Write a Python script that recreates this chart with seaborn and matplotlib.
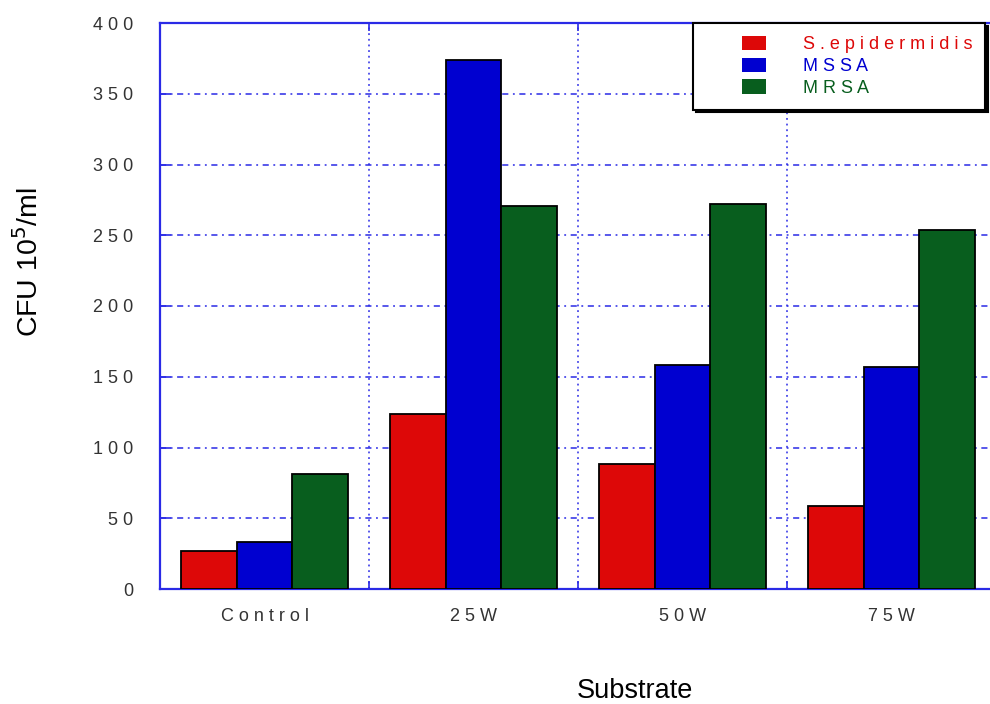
import matplotlib
matplotlib.use("Agg")
import matplotlib.pyplot as plt
from matplotlib.patches import Patch, Rectangle
from matplotlib.legend_handler import HandlerPatch
from matplotlib.ticker import FixedLocator
import seaborn as sns
import pandas as pd

# Data
substrates = ["Control", "25W", "50W", "75W"]
series = ["S.epidermidis", "MSSA", "MRSA"]
s_epidermidis = [27, 124, 88, 59]
mssa = [33, 374, 158, 157]
mrsa = [81, 271, 272, 254]
y_ticks = [0, 50, 100, 150, 200, 250, 300, 350, 400]

colors = {"S.epidermidis": "#DD0808", "MSSA": "#0000D0", "MRSA": "#085E1E"}
axis_blue = "#2A2AE6"

df = pd.DataFrame({
    "Substrate": substrates * 3,
    "Organism": [series[0]] * 4 + [series[1]] * 4 + [series[2]] * 4,
    "CFU": s_epidermidis + mssa + mrsa,
})

sns.set_style("white")
plt.rcParams["font.family"] = ["Liberation Sans", "DejaVu Sans"]

fig = plt.figure(figsize=(9.9, 7.04), dpi=100)
ax = fig.add_axes([160 / 990, 1 - 589 / 704, 830 / 990, 566 / 704])

sns.barplot(data=df, x="Substrate", y="CFU", hue="Organism",
            order=substrates, hue_order=series, palette=colors,
            width=0.8, edgecolor="black", linewidth=1.3,
            saturation=1, ax=ax, legend=False, zorder=3)

ax.set_xlim(-0.5, 3.471)
ax.set_ylim(0, 400)

def spaced(s):
    return " ".join(s)

# Y axis
ax.set_yticks(y_ticks)
ax.set_yticklabels([spaced(str(v)) for v in y_ticks], fontsize=13, color="#333333")
ax.tick_params(axis="y", direction="in", length=8, width=1.2, color=axis_blue, pad=19, left=True)

# X axis: labels at category centres, ticks at boundaries
ax.set_xticks(range(len(substrates)))
ax.set_xticklabels([spaced(s) for s in substrates], fontsize=13, color="#333333")
ax.tick_params(axis="x", which="major", length=0, pad=14)
ax.xaxis.set_minor_locator(FixedLocator([0.5, 1.5, 2.5]))
ax.tick_params(axis="x", which="minor", direction="in", length=6, width=1.2,
               color=axis_blue, bottom=True, top=True)

# Grid
for v in y_ticks[1:-1]:
    ax.axhline(v, color=axis_blue, linestyle=(0, (4, 3, 1.2, 3)), linewidth=1.1, zorder=1)
for b in [0.5, 1.5, 2.5]:
    ax.axvline(b, color=axis_blue, linestyle=(0, (1.2, 2.5)), linewidth=1.1, zorder=1)

for side in ["left", "bottom", "top"]:
    ax.spines[side].set_color(axis_blue)
    ax.spines[side].set_linewidth(1.6)
ax.spines["right"].set_visible(False)

ax.set_xlabel("Substrate", fontsize=19.5, color="black")
ax.xaxis.set_label_coords(0.572, -0.157)
ax.set_ylabel("CFU 10$^5$/ml", fontsize=20.5, color="black")
ax.yaxis.set_label_coords(-0.140, 0.578)


class RightPatch(HandlerPatch):
    def create_artists(self, legend, orig_handle, xdescent, ydescent, width, height, fontsize, trans):
        w = 1.28 * fontsize
        p = Rectangle((-xdescent + width - w, -ydescent), w, height,
                      facecolor=orig_handle.get_facecolor(), edgecolor="none", transform=trans)
        return [p]


handles = [Patch(facecolor=colors[s]) for s in series]
leg = ax.legend(handles, [spaced(s) for s in series], loc="upper right",
                bbox_to_anchor=(0.994, 1.0), fontsize=13, frameon=True, fancybox=False,
                shadow={"color": "black", "alpha": 1.0}, edgecolor="black",
                handlelength=3.3, handleheight=0.85, handletextpad=2.05,
                labelspacing=0.23, borderpad=0.72, borderaxespad=0,
                handler_map={Patch: RightPatch()})
leg.get_frame().set_linewidth(1.5)
leg.set_zorder(5)
for t, s in zip(leg.get_texts(), series):
    t.set_color(colors[s])

fig.savefig("out.png", dpi=100)
